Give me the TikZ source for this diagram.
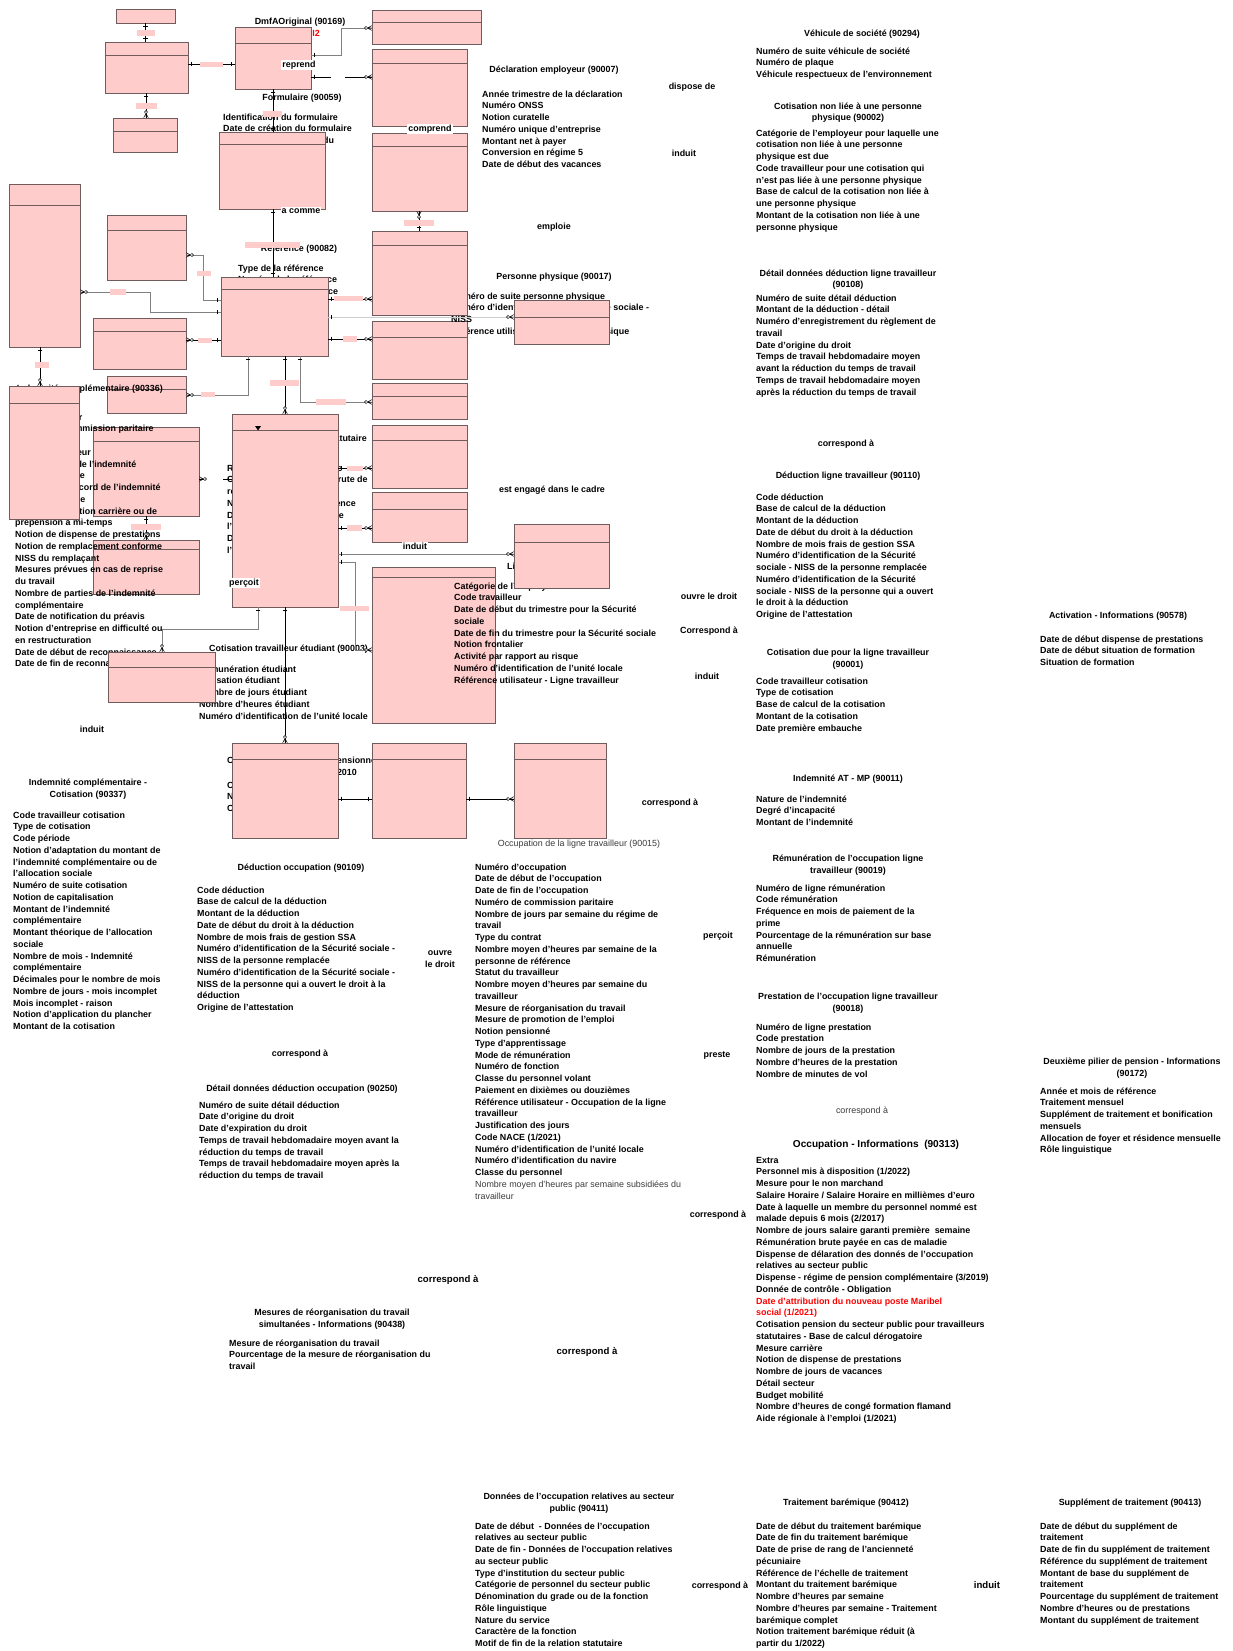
\documentclass[tikz,border=0pt]{standalone}
\usepackage{fontspec}
\setmainfont{Liberation Sans}
\usetikzlibrary{fit}
\definecolor{pinkc}{RGB}{255,204,204}
\definecolor{boxc}{RGB}{112,92,92}
\definecolor{shadowc}{RGB}{165,160,160}
\definecolor{gline}{RGB}{128,128,128}
\definecolor{lgline}{RGB}{205,205,205}
\definecolor{regtxt}{RGB}{60,60,60}
\newcommand\attrs[5][attr]{\foreach \myline [count=\myi from 0] in {#5} {\node[#1] (#2-\myi) at (#3,#4+\myi*11.75+3.1) {\myline};}}
\newcommand\ttlnode[5][ttl]{\node[#1] (#2) at (#3,#4+3.1) {#5};}
\newcommand\ebx[6]{\fill[shadowc] (#2+1.4,#3+1.4) rectangle (#4+1.4,#5+1.4); \node[ebox, fit={(#2,#3) (#4,#5)}] (#1) {}; \draw[hdr] (#1.west |- 0,#6) -- (#1.east |- 0,#6);}
\newcommand\pl[5]{\node[plbl, fit={(#2,#3) (#4,#5)}] (#1) {};}
\begin{document}
\begin{tikzpicture}[x=1pt,y=-1pt,
  ebox/.style={draw=boxc, fill=pinkc, line width=0.75pt, inner sep=0pt, rectangle},
  hdr/.style={draw=boxc, line width=0.75pt},
  plbl/.style={fill=pinkc, draw=none, inner sep=0pt, rectangle},
  wgap/.style={fill=white, draw=none, inner sep=0pt, rectangle},
  conn/.style={draw=black, line width=0.8pt},
  gconn/.style={draw=gline, line width=0.8pt},
  lconn/.style={draw=lgline, line width=0.8pt},
  attr/.style={anchor=base west, inner sep=0pt, font=\fontsize{8.9}{11}\selectfont\bfseries},
  regattr/.style={anchor=base west, inner sep=0pt, font=\fontsize{8.9}{11}\selectfont, text=regtxt},
  ttl/.style={anchor=base, inner sep=0pt, font=\fontsize{8.9}{11}\selectfont\bfseries},
  big/.style={anchor=base, inner sep=0pt, font=\fontsize{9.6}{11}\selectfont\bfseries},
  bigger/.style={anchor=base, inner sep=0pt, font=\fontsize{10.1}{12}\selectfont\bfseries},
  reg/.style={anchor=base, inner sep=0pt, font=\fontsize{8.9}{11}\selectfont, text=regtxt},
  wlbl/.style={anchor=base, fill=white, inner sep=1pt, font=\fontsize{8.9}{11}\selectfont\bfseries},
  crowfoot/.pic={\draw[line width=0.5pt] (-4pt,0pt)--(0pt,2.3pt) (-4pt,0pt)--(0pt,-2.3pt) (-4pt,0pt)--(0pt,0pt); \draw[line width=0.5pt, fill=white] (-5.6pt,0pt) circle (1.6pt);},
  onebar/.pic={\draw[line width=0.5pt] (-3pt,-2.3pt)--(-3pt,2.3pt);}
]
\fill[white] (0,0) rectangle (1232,1651);
\useasboundingbox (0,0) rectangle (1232,1651);

% ---------- boxes underneath some texts ----------
\ebx{V}{93}{427}{199}{516}{441}
\ebx{W}{93}{540}{199}{594}{549}
\ebx{T}{107}{376}{186}{413}{389}
\ebx{AA}{372}{567}{495}{723}{577}

% ---------- texts partly hidden by boxes ----------
\node[attr, anchor=base east, text=red] (red12) at (320,36.1) {I2};
\attrs{fo}{223}{117}{Identification du formulaire, Date de création du formulaire, Date de la modification du}
\attrs{re}{238}{268}{Type de la référence, Numéro de la référence, Montant de la référence}
\attrs{pp}{451}{296}{Numéro de suite personne physique, Numéro d'identification de la Sécurité sociale -}
\node[attr] (pp-3) at (451,331+3.1) {Référence utilisateur - Personne physique};
\node[attr, anchor=base east] (ic-t) at (163,388+3.1) {Indemnité complémentaire (90336)};
\attrs{ic}{15}{417}{Code travailleur, Numéro de commission paritaire, Code période, Notion employeur, Date de début de l'indemnité, Numéro de suite, Numéro de l'accord de l'indemnité, Date d'échéance, Notion interruption carrière ou de, prépension à mi-temps, Notion de dispense de prestations, Notion de remplacement conforme, NISS du remplaçant, Mesures prévues en cas de reprise, du travail, Nombre de parties de l'indemnité, complémentaire, Date de notification du préavis, Notion d'entreprise en difficulté ou, en restructuration, Date de début de reconnaissance, Date de fin de reconnaissance}
\node[attr, anchor=base east] (st-t) at (367,438+3.1) {Travailleur statutaire};
\attrs{st}{227}{468}{Rémunération de référence, Cotisation rémunération brute de, référence, Nombre d'heures de référence, Date de début de la formule, l'indemnité, Date de fin de, l'indemnité}
\node[attr] (ce-t) at (209,648+3.1) {Cotisation travailleur étudiant (90003)};
\attrs{ce}{199}{669}{Rémunération étudiant, Cotisation étudiant, Nombre de jours étudiant, Nombre d'heures étudiant, Numéro d'identification de l'unité locale}
\node[attr] (lt-t) at (507,566+3.1) {Ligne travailleur};
\attrs{lt}{454}{586}{Catégorie de l'employeur, Code travailleur, Date de début du trimestre pour la Sécurité, sociale, Date de fin du trimestre pour la Sécurité sociale, Notion frontalier, Activité par rapport au risque, Numéro d'identification de l'unité locale, Référence utilisateur - Ligne travailleur}
\node[attr] (pe-0) at (227,760+3.1) {Cotisation du travailleur pensionné};
\node[attr, anchor=base east] (pe-1) at (357,772+3.1) {depuis 2010};
\attrs{pe2}{227}{785}{Code travailleur cotisation, Numéro de suite, Cotisation}
\ttlnode{dm-t}{300}{21}{DmfAOriginal (90169)}
\ttlnode{fo-t}{302}{97}{Formulaire (90059)}
\ttlnode{re-t}{299}{248}{Référence (90082)}

% ---------- other boxes ----------
\fill[shadowc] (117.4,10.4) rectangle (176.4,24.4);
\node[ebox, fit={(116,9) (175,23)}] (A) {};
\ebx{B}{105}{42}{188}{93}{55}
\ebx{B2}{113}{118}{177}{152}{131}
\ebx{C}{235}{27}{311}{89}{43}
\ebx{D}{372}{10}{481}{44}{22}
\ebx{E}{372}{49}{467}{126}{63}
\ebx{F}{372}{133}{467}{211}{146}
\ebx{G}{372}{231}{467}{315}{245}
\ebx{H}{219}{132}{325}{209}{144}
\ebx{I}{221}{277}{328}{356}{289}
\ebx{J}{9}{184}{80}{347}{205}
\ebx{K}{107}{215}{186}{280}{230}
\ebx{L}{93}{318}{186}{369}{331}
\ebx{N}{514}{300}{609}{344}{317}
\ebx{O}{372}{321}{467}{379}{337}
\ebx{P}{372}{383}{467}{419}{396}
\ebx{Q}{372}{425}{467}{488}{440}
\ebx{R}{372}{492}{467}{542}{509}
\ebx{S}{232}{414}{338}{607}{430}
\ebx{U}{9}{386}{79}{519}{403}
\ebx{X}{108}{652}{215}{702}{667}
\ebx{Z}{514}{524}{609}{588}{542}
\ebx{Y}{232}{743}{338}{838}{759}
\ebx{AB}{372}{743}{466}{838}{759}
\ebx{AC}{514}{743}{606}{838}{759}
\fill (255,426) -- (261,426) -- (258,430.5) -- cycle;
\node[attr] (pp-2) at (451,319+3.1) {NISS};

% ---------- connectors ----------
\draw[conn] (A.south) -- (A.south |- B.north);
\draw[conn] (B.east |- 0,64) -- (C.west |- 0,64);
\draw[conn] (B.south -| 146,0) -- (B2.north -| 146,0);
\draw[gconn] (C.east |- 0,55) -- (341,55) -- (341,28) -- (D.west |- 0,28);
\draw[conn] (C.east |- 0,77) -- (E.west |- 0,77);
\draw[conn] (C.south -| 273,0) -- (H.north -| 273,0);
\draw[conn] (F.south -| 419,0) -- (G.north -| 419,0);
\draw[conn] (H.south -| 273,0) -- (I.north -| 273,0);
\draw[gconn] (J.east |- 0,292) -| (150,312) -- (I.west |- 0,312);
\draw[gconn] (K.east |- 0,255) -| (203,300) -- (I.west |- 0,300);
\draw[conn] (L.east |- 0,340) -- (I.west |- 0,340);
\draw[conn] (I.east |- 0,299) -- (G.west |- 0,299);
\draw[lconn] (I.east |- 0,317) -- (N.west |- 0,317);
\draw[conn] (I.east |- 0,339) -- (O.west |- 0,339);
\draw[gconn] (I.south -| 300,0) |- (P.west |- 0,402);
\draw[conn] (I.south -| 285,0) -- (S.north -| 285,0);
\draw[gconn] (I.south -| 248,0) |- (T.east |- 0,395);
\draw[conn] (J.south -| 40,0) -- (U.north -| 40,0);
\draw[conn] (V.south -| 146,0) -- (W.north -| 146,0);
\draw[conn] (V.east |- 0,479) -- (S.west |- 0,479);
\draw[conn] (S.east |- 0,468) -- (Q.west |- 0,468);
\draw[conn] (S.east |- 0,528) -- (R.west |- 0,528);
\draw[gconn] (S.east |- 0,554) -- (Z.west |- 0,554);
\draw[gconn] (S.east |- 0,562) -| (355,650) -- (AA.west |- 0,650);
\draw[gconn] (S.south -| 258,0) |- (162,629) -- (X.north -| 162,0);
\draw[conn] (S.south -| 285,0) -- (Y.north -| 285,0);
\draw[conn] (Y.east |- 0,799) -- (AB.west |- 0,799);
\draw[conn] (AB.east |- 0,799) -- (AC.west |- 0,799);
\node[wgap, fit={(331,74) (345,80)}] (gap1) {};
\node[wgap, fit={(206,475) (223,483)}] (gap2) {};

% ---------- end markers ----------
\pic[rotate=90] at (A.south) {onebar};
\pic[rotate=-90] at (A.south |- B.north) {onebar};
\pic[rotate=180] at (B.east |- 0,64) {onebar};
\pic at (C.west |- 0,64) {onebar};
\pic[rotate=90] at (B.south -| 146,0) {onebar};
\pic[rotate=-90] at (B2.north -| 146,0) {crowfoot};
\pic[rotate=180] at (C.east |- 0,55) {onebar};
\pic at (D.west |- 0,28) {crowfoot};
\pic[rotate=180] at (C.east |- 0,77) {onebar};
\pic at (E.west |- 0,77) {crowfoot};
\pic[rotate=90] at (C.south -| 273,0) {onebar};
\pic[rotate=-90] at (H.north -| 273,0) {onebar};
\pic[rotate=90] at (F.south -| 419,0) {crowfoot};
\pic[rotate=-90] at (G.north -| 419,0) {onebar};
\pic[rotate=90] at (H.south -| 273,0) {onebar};
\pic[rotate=-90] at (I.north -| 273,0) {onebar};
\pic[rotate=180] at (J.east |- 0,292) {crowfoot};
\pic at (I.west |- 0,312) {onebar};
\pic[rotate=180] at (K.east |- 0,255) {crowfoot};
\pic at (I.west |- 0,300) {onebar};
\pic[rotate=180] at (L.east |- 0,340) {crowfoot};
\pic at (I.west |- 0,340) {onebar};
\pic[rotate=180] at (I.east |- 0,299) {onebar};
\pic at (G.west |- 0,299) {crowfoot};
\pic[rotate=180] at (I.east |- 0,317) {onebar};
\pic at (N.west |- 0,317) {crowfoot};
\pic[rotate=180] at (I.east |- 0,339) {onebar};
\pic at (O.west |- 0,339) {crowfoot};
\pic[rotate=90] at (I.south -| 300,0) {onebar};
\pic at (P.west |- 0,402) {crowfoot};
\pic[rotate=90] at (I.south -| 285,0) {onebar};
\pic[rotate=-90] at (S.north -| 285,0) {crowfoot};
\pic[rotate=90] at (I.south -| 248,0) {onebar};
\pic[rotate=180] at (T.east |- 0,395) {crowfoot};
\pic[rotate=90] at (J.south -| 40,0) {onebar};
\pic[rotate=-90] at (U.north -| 40,0) {crowfoot};
\pic[rotate=90] at (V.south -| 146,0) {onebar};
\pic[rotate=-90] at (W.north -| 146,0) {crowfoot};
\pic[rotate=180] at (V.east |- 0,479) {crowfoot};
\pic at (S.west |- 0,479) {onebar};
\pic[rotate=180] at (S.east |- 0,468) {onebar};
\pic at (Q.west |- 0,468) {crowfoot};
\pic[rotate=180] at (S.east |- 0,528) {onebar};
\pic at (R.west |- 0,528) {crowfoot};
\pic[rotate=180] at (S.east |- 0,554) {onebar};
\pic at (Z.west |- 0,554) {crowfoot};
\pic[rotate=180] at (S.east |- 0,562) {onebar};
\pic at (AA.west |- 0,650) {crowfoot};
\pic[rotate=90] at (S.south -| 258,0) {onebar};
\pic[rotate=-90] at (X.north -| 162,0) {crowfoot};
\pic[rotate=90] at (S.south -| 285,0) {onebar};
\pic[rotate=-90] at (Y.north -| 285,0) {crowfoot};
\pic[rotate=180] at (Y.east |- 0,799) {onebar};
\pic at (AB.west |- 0,799) {onebar};
\pic[rotate=180] at (AB.east |- 0,799) {onebar};
\pic at (AC.west |- 0,799) {crowfoot};

% ---------- pink relationship labels ----------
\pl{p1}{137}{30}{155}{36}
\pl{p2}{200}{62}{223}{67}
\pl{p3}{136}{103}{157}{109}
\pl{p4}{263}{111}{282}{117}
\pl{p5}{404}{220}{434}{226}
\pl{p6}{245}{242}{300}{248}
\pl{p7}{110}{289}{126}{295}
\pl{p8}{197}{271}{211}{276}
\pl{p9}{198}{338}{212}{343}
\pl{p10}{334}{296}{363}{301}
\pl{p11}{343}{336}{357}{342}
\pl{p12}{316}{399}{346}{405}
\pl{p13}{270}{380}{299}{386}
\pl{p14}{201}{392}{215}{397}
\pl{p15}{35}{362}{49}{368}
\pl{p16}{131}{524}{161}{530}
\pl{p17}{347}{466}{363}{471}
\pl{p18}{347}{525}{362}{531}
\pl{p19}{340}{606}{369}{611}

% ---------- white relationship labels ----------
\node[wlbl] (w1) at (299,64+3.1) {reprend};
\node[wlbl] (w2) at (430,128+3.1) {comprend};
\node[wlbl] (w3) at (301,210+3.1) {a comme};
\node[wlbl] (w4) at (244,582+3.1) {perçoit};
\node[wlbl] (w5) at (415,546+3.1) {induit};

% ---------- free texts (right part) ----------
\ttlnode{dec-t}{554}{69}{Déclaration employeur (90007)}
\attrs{dec}{482}{94}{Année trimestre de la déclaration, Numéro ONSS, Notion curatelle, Numéro unique d'entreprise, Montant net à payer, Conversion en régime 5, Date de début des vacances}
\ttlnode{r1}{692}{86}{dispose de}
\ttlnode{r2}{684}{153}{induit}
\ttlnode{r3}{554}{226}{emploie}
\ttlnode{pp-t}{554}{276}{Personne physique (90017)}
\ttlnode{r4}{552}{489}{est engagé dans le cadre}

\ttlnode{vs-t}{862}{33}{Véhicule de société (90294)}
\attrs{vs}{756}{51}{Numéro de suite véhicule de société, Numéro de plaque, Véhicule respectueux de l'environnement}
\ttlnode{cn-t}{848}{106}{Cotisation non liée à une personne}
\ttlnode{cn-t2}{848}{117}{physique (90002)}
\attrs{cn}{756}{133}{Catégorie de l'employeur pour laquelle une, cotisation non liée à une personne, physique est due, Code travailleur pour une cotisation qui, n'est pas liée à une personne physique, Base de calcul de la cotisation non liée à, une personne physique, Montant de la cotisation non liée à une, personne physique}
\ttlnode{dd-t}{848}{273}{Détail données déduction ligne travailleur}
\ttlnode{dd-t2}{848}{284}{(90108)}
\attrs{dd}{756}{298}{Numéro de suite détail déduction, Montant de la déduction - détail, Numéro d'enregistrement du règlement de, travail, Date d'origine du droit, Temps de travail hebdomadaire moyen, avant la réduction du temps de travail, Temps de travail hebdomadaire moyen, après la réduction du temps de travail}
\ttlnode{r5}{846}{443}{correspond à}
\ttlnode{dl-t}{848}{475}{Déduction ligne travailleur (90110)}
\attrs{dl}{756}{497}{Code déduction, Base de calcul de la déduction, Montant de la déduction, Date de début du droit à la déduction, Nombre de mois frais de gestion SSA, Numéro d'identification de la Sécurité, sociale - NISS de la personne remplacée, Numéro d'identification de la Sécurité, sociale - NISS de la personne qui a ouvert, le droit à la déduction, Origine de l'attestation}
\ttlnode{r6}{709}{596}{ouvre le droit}
\ttlnode{r7}{709}{630}{Correspond à}
\ttlnode{r8}{707}{676}{induit}
\ttlnode{cd-t}{848}{652}{Cotisation due pour la ligne travailleur}
\ttlnode{cd-t2}{848}{664}{(90001)}
\attrs{cd}{756}{681}{Code travailleur cotisation, Type de cotisation, Base de calcul de la cotisation, Montant de la cotisation, Date première embauche}
\ttlnode{ac-t}{1118}{615}{Activation - Informations (90578)}
\attrs{ac}{1040}{639}{Date de début dispense de prestations, Date de début situation de formation, Situation de formation}
\ttlnode{at-t}{848}{778}{Indemnité AT - MP (90011)}
\attrs{at}{756}{799}{Nature de l'indemnité, Degré d'incapacité, Montant de l'indemnité}
\ttlnode{r9}{670}{802}{correspond à}
\ttlnode{rm-t}{848}{858}{Rémunération de l'occupation ligne}
\ttlnode{rm-t2}{848}{870}{travailleur (90019)}
\attrs{rm}{756}{888}{Numéro de ligne rémunération, Code rémunération, Fréquence en mois de paiement de la, prime, Pourcentage de la rémunération sur base, annuelle, Rémunération}
\ttlnode{r10}{718}{935}{perçoit}
\ttlnode{pr-t}{848}{996}{Prestation de l'occupation ligne travailleur}
\ttlnode{pr-t2}{848}{1008}{(90018)}
\attrs{pr}{756}{1027}{Numéro de ligne prestation, Code prestation, Nombre de jours de la prestation, Nombre d'heures de la prestation, Nombre de minutes de vol}
\ttlnode{r11}{717}{1054}{preste}
\ttlnode{dp-t}{1132}{1061}{Deuxième pilier de pension - Informations}
\ttlnode{dp-t2}{1132}{1073}{(90172)}
\attrs{dp}{1040}{1091}{Année et mois de référence, Traitement mensuel, Supplément de traitement et bonification, mensuels, Allocation de foyer et résidence mensuelle, Rôle linguistique}
\ttlnode[reg]{r12}{862}{1110}{correspond à}
\ttlnode[bigger]{oi-t}{876}{1144}{Occupation - Informations\ \ (90313)}
\attrs{oi}{756}{1160}{Extra, Personnel mis à disposition (1/2022), Mesure pour le non marchand, Salaire Horaire / Salaire Horaire en millièmes d'euro, Date à laquelle un membre du personnel nommé est, malade depuis 6 mois (2/2017), Nombre de jours salaire garanti première\ \ semaine, Rémunération brute payée en cas de maladie, Dispense de délaration des donnés de l'occupation, relatives au secteur public, Dispense - régime de pension complémentaire (3/2019), Donnée de contrôle - Obligation, {\color{red}Date d'attribution du nouveau poste Maribel}, {\color{red}social (1/2021)}, Cotisation pension du secteur public pour travailleurs, statutaires - Base de calcul dérogatoire, Mesure carrière, Notion de dispense de prestations, Nombre de jours de vacances, Détail secteur, Budget mobilité, Nombre d'heures de congé formation flamand, Aide régionale à l'emploi (1/2021)}
\ttlnode{r13}{718}{1214}{correspond à}

% ---------- middle column ----------
\ttlnode[reg]{ol-t}{579}{843}{Occupation de la ligne travailleur (90015)}
\attrs{ol}{475}{867}{Numéro d'occupation, Date de début de l'occupation, Date de fin de l'occupation, Numéro de commission paritaire, Nombre de jours par semaine du régime de, travail, Type du contrat, Nombre moyen d'heures par semaine de la, personne de référence, Statut du travailleur, Nombre moyen d'heures par semaine du, travailleur, Mesure de réorganisation du travail, Mesure de promotion de l'emploi, Notion pensionné, Type d'apprentissage, Mode de rémunération, Numéro de fonction, Classe du personnel volant, Paiement en dixièmes ou douzièmes, Référence utilisateur - Occupation de la ligne, travailleur, Justification des jours, Code NACE (1/2021), Numéro d'identification de l'unité locale, Numéro d'identification du navire, Classe du personnel}
\attrs[regattr]{ol2}{475}{1184.25}{Nombre moyen d'heures par semaine subsidiées du, travailleur}

% ---------- left lower ----------
\ttlnode{r14}{92}{729}{induit}
\ttlnode{cc-t}{88}{782}{Indemnité complémentaire -}
\ttlnode{cc-t2}{88}{794}{Cotisation (90337)}
\attrs{cc}{13}{815}{Code travailleur cotisation, Type de cotisation, Code période, Notion d'adaptation du montant de, l'indemnité complémentaire ou de, l'allocation sociale, Numéro de suite cotisation, Notion de capitalisation, Montant de l'indemnité, complémentaire, Montant théorique de l'allocation, sociale, Nombre de mois - Indemnité, complémentaire, Décimales pour le nombre de mois, Nombre de jours - mois incomplet, Mois incomplet - raison, Notion d'application du plancher, Montant de la cotisation}
\ttlnode{do-t}{301}{867}{Déduction occupation (90109)}
\attrs{do}{197}{890}{Code déduction, Base de calcul de la déduction, Montant de la déduction, Date de début du droit à la déduction, Nombre de mois frais de gestion SSA, Numéro d'identification de la Sécurité sociale -, NISS de la personne remplacée, Numéro d'identification de la Sécurité sociale -, NISS de la personne qui a ouvert le droit à la, déduction, Origine de l'attestation}
\ttlnode{r15}{440}{952}{ouvre}
\ttlnode{r15b}{440}{964}{le droit}
\ttlnode{r16}{300}{1053}{correspond à}
\ttlnode{dt-t}{302}{1088}{Détail données déduction occupation (90250)}
\attrs{dt}{199}{1105}{Numéro de suite détail déduction, Date d'origine du droit, Date d'expiration du droit, Temps de travail hebdomadaire moyen avant la, réduction du temps de travail, Temps de travail hebdomadaire moyen après la, réduction du temps de travail}
\ttlnode[big]{r17}{448}{1279}{correspond à}
\ttlnode{mr-t}{332}{1312}{Mesures de réorganisation du travail}
\ttlnode{mr-t2}{332}{1324}{simultanées - Informations (90438)}
\attrs{mr}{229}{1343}{Mesure de réorganisation du travail, Pourcentage de la mesure de réorganisation du, travail}
\ttlnode[big]{r18}{587}{1351}{correspond à}

% ---------- bottom ----------
\ttlnode{sp-t}{579}{1496}{Données de l'occupation relatives au secteur}
\ttlnode{sp-t2}{579}{1508}{public (90411)}
\attrs{sp}{475}{1526}{Date de début\ \ - Données de l'occupation, relatives au secteur public, Date de fin - Données de l'occupation relatives, au secteur public, Type d'institution du secteur public, Catégorie de personnel du secteur public, Dénomination du grade ou de la fonction, Rôle linguistique, Nature du service, Caractère de la fonction, Motif de fin de la relation statutaire}
\ttlnode{tb-t}{846}{1502}{Traitement barémique (90412)}
\attrs{tb}{756}{1526}{Date de début du traitement barémique, Date de fin du traitement barémique, Date de prise de rang de l'ancienneté, pécuniaire, Référence de l'échelle de traitement, Montant du traitement barémique, Nombre d'heures par semaine, Nombre d'heures par semaine - Traitement, barémique complet, Notion traitement barémique réduit (à, partir du 1/2022)}
\ttlnode{r19}{720}{1585}{correspond à}
\ttlnode[big]{r20}{987}{1585}{induit}
\ttlnode{su-t}{1130}{1502}{Supplément de traitement (90413)}
\attrs{su}{1040}{1526}{Date de début du supplément de, traitement, Date de fin du supplément de traitement, Référence du supplément de traitement, Montant de base du supplément de, traitement, Pourcentage du supplément de traitement, Nombre d'heures ou de prestations, Montant du supplément de traitement}
\end{tikzpicture}
\end{document}
